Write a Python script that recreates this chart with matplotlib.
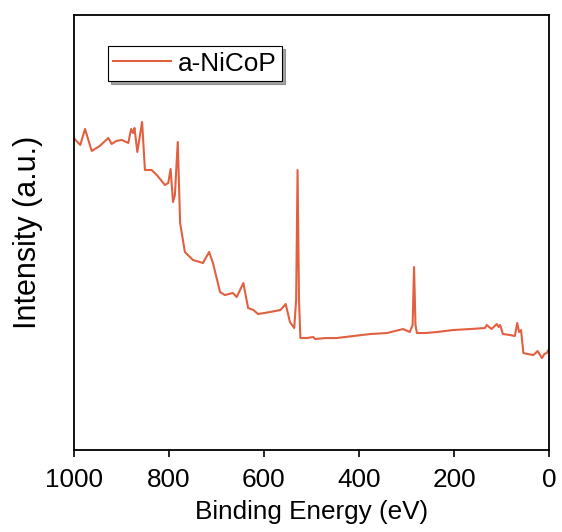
import matplotlib
matplotlib.use("Agg")
import matplotlib.pyplot as plt

plt.rcParams['font.family'] = ['Liberation Sans', 'DejaVu Sans']

energy = [1000, 986, 976, 962, 945, 927, 920, 910, 899, 885, 879, 875, 872, 866, 856, 850,
          836, 825, 808, 801, 796, 791, 787, 781, 776, 766, 749, 728, 715, 707, 692, 682,
          665, 657, 643, 633, 622, 612, 587, 565, 554, 545, 536, 532, 529, 526, 523, 510,
          496, 492, 470, 447, 412, 376, 341, 307, 293, 287, 284, 281, 278, 260, 236, 202,
          166, 135, 131, 121, 110, 106, 103, 97, 82, 72, 67, 63, 59, 54, 45, 33, 24, 15, 10, 5, 0]
intensity = [312, 305, 321, 299, 304, 312, 306, 309, 310, 307, 321, 317, 322, 298, 328, 280,
             280, 275, 265, 267, 281, 248, 255, 308, 227, 198, 190, 187, 198, 187, 158, 155,
             157, 153, 167, 142, 140, 136, 138, 140, 146, 128, 122, 150, 280, 150, 112, 112,
             113, 111, 112, 112, 114, 116, 117, 121, 118, 125, 183, 125, 117, 117, 118, 120,
             121, 122, 125, 121, 126, 123, 125, 116, 115, 114, 127, 118, 120, 97, 96, 95, 99, 92, 96, 97, 101]

series_label = "a-NiCoP"
xticks = [1000, 800, 600, 400, 200, 0]

fig = plt.figure(figsize=(5.62, 5.32), dpi=100)
ax = fig.add_axes([0.131, 0.154, 0.846, 0.817])
ax.plot(energy, intensity, color='#e2603f', lw=1.5, label=series_label)
ax.set_xlim(1000, 0)
ax.set_ylim(0, 434.5)
ax.set_xticks(xticks)
ax.set_yticks([])
ax.tick_params(axis='x', direction='out', length=5, width=1.2, labelsize=18.8, pad=8)
for s in ax.spines.values():
    s.set_linewidth(1.3)
ax.set_xlabel('Binding Energy (eV)', fontsize=18.8, labelpad=6)
ax.set_ylabel('Intensity (a.u.)', fontsize=22, labelpad=22)
leg = ax.legend(loc='upper left', bbox_to_anchor=(0.072, 0.929), fontsize=18.8,
                frameon=True, fancybox=False, shadow=True, edgecolor='black',
                handlelength=2.2, borderpad=0.2, handletextpad=0.3, borderaxespad=0)
leg.get_frame().set_linewidth(0.8)
fig.savefig('out.png', dpi=100)
